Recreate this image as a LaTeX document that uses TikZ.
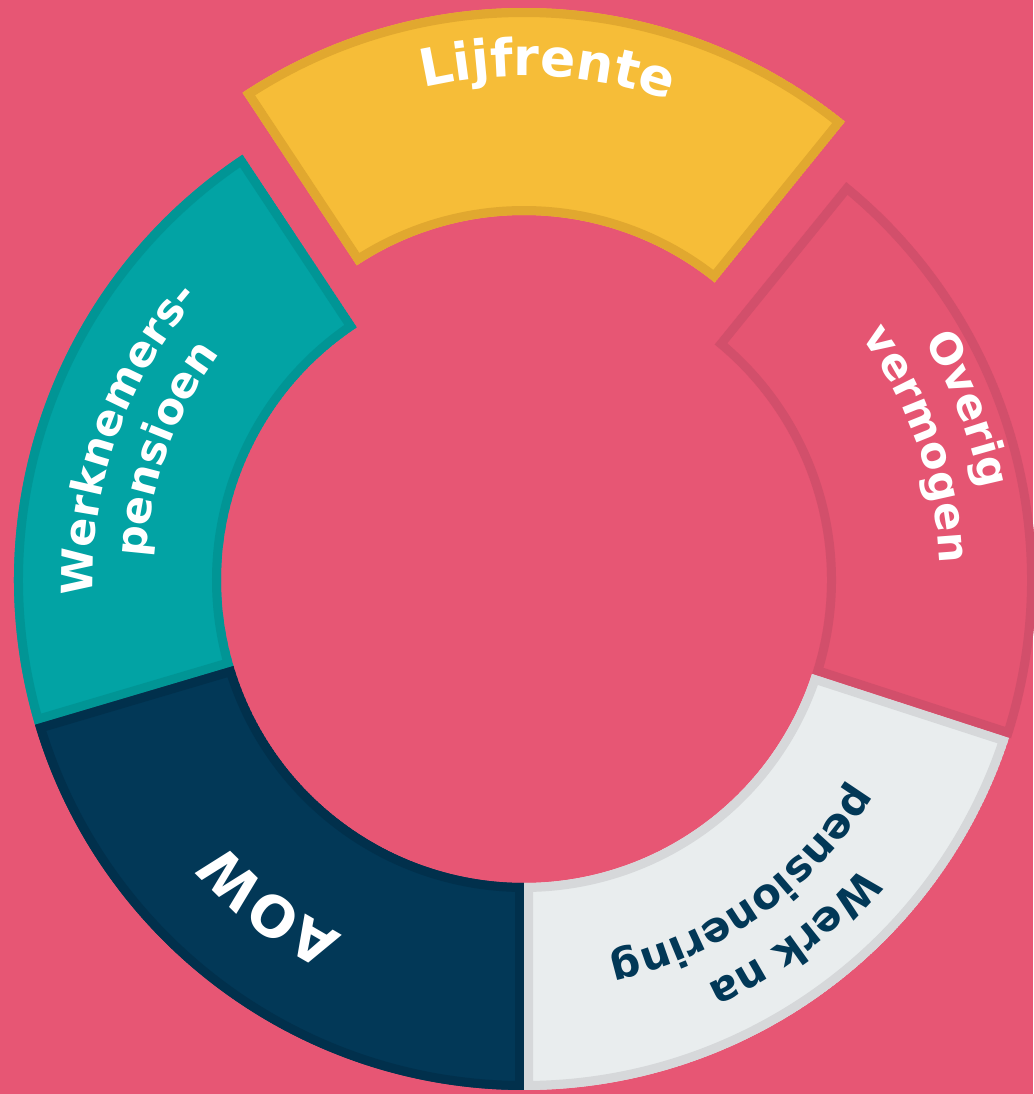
\documentclass[tikz,border=0pt]{standalone}
\usepackage{fontspec}
\setmainfont{DejaVu Sans}
\usetikzlibrary{decorations.text}
\definecolor{bg}{HTML}{E75674}
\definecolor{lijfill}{HTML}{F6BD38}
\definecolor{lijline}{HTML}{E1A82F}
\definecolor{tealfill}{HTML}{02A3A4}
\definecolor{tealline}{HTML}{019595}
\definecolor{navyfill}{HTML}{023857}
\definecolor{navyline}{HTML}{01304C}
\definecolor{greyfill}{HTML}{E9EDEE}
\definecolor{greyline}{HTML}{D6D8DA}
\definecolor{pinkfill}{HTML}{E55572}
\definecolor{pinkline}{HTML}{D24F6B}
\newcommand\ringsector[4]{(#1:#4) arc[start angle=#1, end angle=#2, radius=#4] -- (#2:#3) arc[start angle=#2, end angle=#1, radius=#3] -- cycle}
% #1 shift, #2 a1, #3 a2, #4 fill, #5 line, #6 rin, #7 rout
\newcommand\drawsector[7]{%
  \begin{scope}[shift={#1}]
    \begin{scope}
      \clip \ringsector{#2}{#3}{#6}{#7};
      \fill[#4] \ringsector{#2}{#3}{#6}{#7};
      \draw[#5, line width=18pt, line join=miter] \ringsector{#2}{#3}{#6}{#7};
    \end{scope}
  \end{scope}}
% #1 shift, #2 mid angle, #3 radius, #4 size, #5 colour, #6 text
\newcommand\arclabel[6]{%
  \pgfmathsetmacro\angA{#2+60}%
  \pgfmathsetmacro\angB{#2-60}%
  \begin{scope}[shift={#1}]
    \path[decorate, decoration={text along path, text align=center,
      text={|\color{#5}\bfseries\fontsize{#4}{#4}\selectfont|#6}}]
      (\angA:#3) arc[start angle=\angA, end angle=\angB, radius=#3];
  \end{scope}}
\begin{document}
\begin{tikzpicture}[x=1pt,y=1pt]
  \useasboundingbox (0,0) rectangle (1033,1094);
  \fill[bg] (0,0) rectangle (1033,1094);
  \coordinate (C) at (524,514);
  \coordinate (L) at (524,576);
  % segments
  \drawsector{(L)}{51}{123.5}{lijfill}{lijline}{303pt}{510pt}
  \drawsector{(C)}{123.5}{196.5}{tealfill}{tealline}{303pt}{510pt}
  \drawsector{(C)}{196.5}{270}{navyfill}{navyline}{303pt}{510pt}
  \drawsector{(C)}{270}{342}{greyfill}{greyline}{303pt}{510pt}
  \drawsector{(C)}{342}{411}{pinkfill}{pinkline}{303pt}{512pt}
  % labels
  \arclabel{(L)}{87}{442pt}{52}{white}{Lijfrente}
  \arclabel{(C)}{160.5}{431pt}{43}{white}{Werknemers-}
  \arclabel{(C)}{160}{379pt}{43}{white}{pensioen}
  \arclabel{(C)}{232}{399pt}{56}{white}{AOW}
  \arclabel{(C)}{307}{444pt}{42}{navyfill}{Werk na}
  \arclabel{(C)}{305.5}{388pt}{42}{navyfill}{pensionering}
  \arclabel{(C)}{21}{466pt}{43}{white}{Overig}
  \arclabel{(C)}{19}{416pt}{43}{white}{vermogen}
\end{tikzpicture}
\end{document}
